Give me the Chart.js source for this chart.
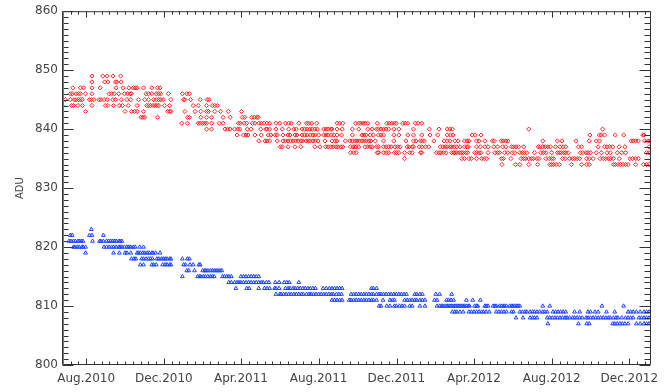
<!DOCTYPE html>
<html>
<head>
<meta charset="utf-8">
<script src="https://cdn.jsdelivr.net/npm/chart.js@4/dist/chart.umd.min.js"></script>
<style>
  html, body { margin: 0; padding: 0; background: #fff; }
  #wrap { width: 672px; height: 392px; }
</style>
</head>
<body>
<div id="wrap"><canvas id="c" width="672" height="392"></canvas></div>
<script>
// Time axis: days counted from 2010-06-24.
const tickDays = [38, 160, 281, 403, 525, 647, 769, 891];
const tickLabels = ['Aug.2010', 'Dec.2010', 'Apr.2011', 'Aug.2011', 'Dec.2011', 'Apr.2012', 'Aug.2012', 'Dec.2012'];
const dayRange = [0, 925];
const aduRange = [800, 860];

// Upper channel (diamonds): one list of observation days per ADU level.
const redLevels = [849, 848, 847, 846, 845, 844, 843, 842, 841, 840, 839, 838, 837, 836, 835, 834];
const redDays = [
  [47, 64, 71, 80, 92],
  [47, 67, 72, 84, 86, 93],
  [17, 29, 34, 47, 60, 85, 96, 105, 112, 115, 118, 128, 141, 150, 154],
  [13, 16, 22, 26, 29, 37, 47, 74, 78, 82, 89, 98, 103, 107, 109, 132, 136, 141, 148, 152, 155, 167, 189, 196, 200],
  [5, 13, 19, 22, 26, 29, 32, 43, 46, 50, 58, 61, 66, 71, 80, 84, 93, 102, 108, 120, 130, 136, 144, 148, 152, 155, 159, 171, 191, 193, 202, 217, 228, 231],
  [0, 15, 18, 25, 32, 47, 68, 72, 81, 90, 95, 104, 118, 133, 136, 139, 143, 146, 149, 152, 161, 169, 206, 214, 227, 236, 240, 244],
  [37, 99, 109, 114, 118, 128, 166, 169, 171, 193, 209, 218, 227, 230, 240, 249, 261, 282],
  [124, 127, 130, 150, 197, 200, 218, 227, 235, 253, 264, 283, 287, 298, 302, 306, 308],
  [188, 197, 214, 217, 221, 224, 227, 235, 247, 253, 277, 280, 286, 290, 299, 303, 309, 313, 317, 322, 326, 336, 342, 351, 356, 360, 372, 384, 387, 392, 400, 432, 436, 441, 461, 466, 469, 473, 476, 480, 495, 510, 514, 518, 522, 525, 535, 539, 543, 555, 559, 565],
  [227, 235, 256, 260, 264, 271, 276, 279, 291, 297, 312, 320, 322, 326, 336, 346, 356, 364, 368, 377, 381, 385, 389, 393, 397, 401, 411, 415, 418, 422, 424, 432, 440, 456, 466, 480, 487, 494, 497, 501, 505, 509, 513, 521, 529, 552, 577, 592, 605, 609, 613, 733, 849],
  [275, 285, 289, 292, 303, 313, 324, 328, 335, 338, 347, 355, 358, 366, 369, 377, 381, 385, 390, 394, 398, 403, 411, 415, 418, 423, 427, 432, 439, 456, 471, 474, 477, 484, 489, 497, 501, 505, 521, 529, 543, 552, 565, 578, 590, 605, 610, 614, 644, 649, 658, 829, 844, 847, 852, 869, 882, 912, 914],
  [309, 319, 322, 326, 338, 347, 351, 355, 359, 363, 367, 371, 375, 378, 383, 387, 390, 394, 398, 402, 413, 424, 429, 432, 445, 452, 456, 460, 463, 467, 471, 475, 478, 482, 485, 492, 505, 521, 540, 552, 556, 563, 566, 569, 584, 600, 605, 609, 617, 622, 632, 636, 639, 651, 655, 664, 676, 679, 690, 693, 697, 700, 755, 778, 785, 807, 828, 839, 844, 894, 897, 901, 905, 915, 920, 923],
  [343, 346, 355, 366, 375, 397, 405, 414, 418, 422, 426, 430, 433, 438, 441, 453, 457, 460, 462, 466, 476, 480, 484, 487, 494, 497, 505, 509, 513, 517, 523, 527, 531, 542, 545, 550, 552, 561, 565, 571, 576, 594, 598, 602, 605, 609, 612, 616, 620, 625, 632, 636, 638, 651, 657, 664, 669, 678, 684, 692, 697, 706, 709, 713, 717, 725, 748, 751, 755, 759, 763, 767, 775, 782, 787, 791, 811, 816, 842, 852, 856, 860, 865, 875, 884, 922],
  [453, 458, 462, 495, 497, 505, 509, 513, 522, 525, 529, 538, 546, 550, 563, 565, 588, 592, 595, 599, 603, 612, 615, 617, 620, 624, 627, 630, 634, 637, 648, 651, 655, 658, 669, 680, 684, 687, 695, 700, 707, 711, 719, 723, 726, 730, 742, 752, 756, 760, 769, 778, 781, 784, 788, 791, 795, 814, 818, 823, 826, 830, 839, 847, 856, 861, 872, 879, 885, 918, 922],
  [538, 628, 632, 639, 643, 651, 659, 663, 667, 690, 693, 705, 721, 725, 728, 733, 737, 740, 746, 749, 760, 765, 769, 772, 786, 790, 797, 802, 805, 809, 813, 824, 828, 834, 845, 850, 854, 858, 861, 866, 875, 892, 896, 901, 905],
  [691, 712, 719, 733, 747, 766, 769, 772, 776, 781, 800, 816, 824, 828, 866, 869, 873, 877, 881, 885, 889, 901, 913, 918, 922]
];

// Lower channel (triangles): one list of observation days per ADU level.
const blueLevels = [823, 822, 821, 820, 819, 818, 817, 816, 815, 814, 813, 812, 811, 810, 809, 808, 807];
const blueDays = [
  [46],
  [13, 16, 43, 47, 65],
  [0, 11, 14, 18, 21, 25, 27, 30, 33, 48, 59, 61, 65, 70, 73, 76, 79, 82, 85, 89, 91, 94],
  [18, 20, 24, 27, 31, 33, 37, 66, 70, 74, 78, 81, 85, 89, 91, 94, 98, 102, 105, 108, 112, 115, 122, 128],
  [37, 81, 90, 99, 102, 108, 118, 120, 123, 127, 130, 134, 137, 141, 143, 147, 154],
  [109, 113, 116, 125, 128, 132, 136, 139, 142, 149, 152, 156, 159, 162, 165, 169, 171, 189, 197, 200],
  [123, 128, 141, 144, 148, 158, 162, 165, 169, 171, 191, 194, 201, 206, 215, 217],
  [196, 199, 208, 221, 224, 226, 229, 233, 236, 239, 242, 245, 248, 251],
  [189, 213, 216, 218, 222, 225, 229, 233, 236, 239, 252, 255, 259, 262, 266, 281, 285, 289, 293, 297, 301, 305, 309],
  [262, 266, 271, 275, 278, 281, 285, 289, 293, 297, 301, 305, 309, 313, 316, 321, 325, 335, 341, 349, 353, 357, 372],
  [273, 290, 294, 309, 318, 322, 326, 334, 336, 341, 351, 355, 358, 363, 366, 370, 374, 378, 382, 386, 390, 394, 398, 410, 415, 420, 424, 428, 432, 436, 440, 486, 489, 494],
  [336, 342, 344, 348, 352, 356, 360, 364, 368, 372, 376, 379, 384, 388, 391, 395, 399, 403, 407, 411, 415, 419, 423, 426, 431, 435, 439, 454, 458, 462, 466, 470, 474, 478, 482, 486, 489, 494, 498, 501, 505, 509, 513, 517, 521, 525, 529, 533, 537, 541, 554, 557, 562, 566, 587, 593, 612],
  [424, 428, 432, 436, 440, 451, 454, 458, 462, 466, 470, 474, 478, 482, 486, 489, 494, 504, 515, 519, 522, 538, 542, 546, 550, 554, 557, 562, 566, 570, 585, 589, 604, 607, 611, 615, 635, 645, 657],
  [498, 501, 510, 515, 522, 525, 530, 534, 538, 546, 550, 562, 570, 589, 593, 596, 598, 601, 604, 606, 609, 611, 614, 617, 619, 622, 625, 627, 630, 632, 635, 638, 640, 648, 651, 653, 664, 666, 669, 677, 680, 682, 687, 690, 693, 695, 698, 703, 706, 708, 711, 714, 716, 719, 755, 766, 848, 882],
  [613, 617, 620, 625, 630, 639, 643, 647, 651, 655, 659, 662, 666, 671, 682, 686, 690, 694, 698, 706, 709, 719, 723, 727, 730, 735, 739, 742, 746, 750, 755, 758, 762, 771, 775, 779, 783, 787, 791, 805, 813, 826, 830, 837, 842, 855, 868, 889, 893, 897, 902, 908, 914, 918, 922],
  [713, 724, 735, 739, 742, 746, 762, 766, 770, 774, 778, 782, 786, 790, 793, 797, 802, 805, 809, 813, 817, 823, 826, 830, 834, 838, 842, 846, 850, 854, 858, 861, 866, 870, 873, 879, 885, 889, 893, 897, 906, 910, 914, 918, 922],
  [763, 811, 824, 828, 865, 868, 872, 876, 880, 884, 889, 902, 908, 914, 918, 922]
];

function toPoints(levels, days) {
  const pts = [];
  levels.forEach((lv, i) => days[i].forEach(d => pts.push({ x: d, y: lv })));
  return pts;
}

// Inward ticks on all four sides plus the plot frame, IDL style.
const frameTicks = {
  id: 'frameTicks',
  afterDatasetsDraw(chart) {
    const { ctx, chartArea: a, scales: { x, y } } = chart;
    ctx.save();
    ctx.strokeStyle = '#333';
    ctx.lineWidth = 1;
    ctx.beginPath();
    const L = a.left + 0.5, R = a.right - 0.5, T = a.top + 0.5, B = a.bottom - 0.5;
    ctx.rect(L, T, R - L, B - T);
    // x ticks (major + 10 minor divisions)
    const step = (tickDays[tickDays.length - 1] - tickDays[0]) / (tickDays.length - 1) / 10;
    for (let d = tickDays[0] - step * Math.floor(tickDays[0] / step); d <= dayRange[1]; d += step) {
      const major = tickDays.some(t => Math.abs(t - d) < step / 2);
      const len = major ? 6 : 3;
      const px = Math.round(x.getPixelForValue(d)) + 0.5;
      if (px <= L + 1 || px >= R - 1) continue;
      ctx.moveTo(px, B); ctx.lineTo(px, B - len);
      ctx.moveTo(px, T); ctx.lineTo(px, T + len);
    }
    // y ticks: major every 10, minor every 1
    for (let v = aduRange[0]; v <= aduRange[1]; v++) {
      const major = v % 10 === 0;
      const len = major ? 11 : 6;
      const py = Math.round(y.getPixelForValue(v)) + 0.5;
      ctx.moveTo(L, py); ctx.lineTo(L + len, py);
      ctx.moveTo(R, py); ctx.lineTo(R - len, py);
    }
    ctx.stroke();
    // heavier left axis line
    ctx.beginPath();
    ctx.moveTo(a.left + 1.5, T); ctx.lineTo(a.left + 1.5, B);
    ctx.strokeStyle = '#777';
    ctx.stroke();
    ctx.restore();
  }
};

const font = { family: 'DejaVu Sans', size: 12 };

new Chart(document.getElementById('c'), {
  type: 'scatter',
  data: {
    datasets: [
      {
        data: toPoints(redLevels, redDays),
        pointStyle: 'rectRot',
        radius: 2.1,
        borderWidth: 1,
        borderColor: '#ff2020',
        backgroundColor: 'rgba(255,255,255,0)'
      },
      {
        data: toPoints(blueLevels, blueDays),
        pointStyle: 'triangle',
        radius: 2.2,
        borderWidth: 1,
        borderColor: '#1f44ff',
        backgroundColor: 'rgba(255,255,255,0)'
      }
    ]
  },
  options: {
    responsive: false,
    animation: false,
    devicePixelRatio: 1,
    layout: { padding: { top: 9, right: 21, left: 0, bottom: 0 } },
    plugins: { legend: { display: false }, tooltip: { enabled: false } },
    scales: {
      x: {
        type: 'linear',
        min: dayRange[0],
        max: dayRange[1],
        grid: { display: false, drawTicks: false },
        border: { display: false },
        afterBuildTicks: s => { s.ticks = tickDays.map(v => ({ value: v })); },
        afterFit: s => { s.height = 27; },
        ticks: {
          autoSkip: false,
          maxRotation: 0,
          padding: 7,
          color: '#444',
          font,
          callback: (v, i) => tickLabels[i]
        }
      },
      y: {
        min: aduRange[0],
        max: aduRange[1],
        grid: { display: false, drawTicks: false },
        border: { display: false },
        afterFit: s => { s.width = 62; },
        ticks: { stepSize: 10, padding: 4, color: '#444', font },
        title: {
          display: true,
          text: 'ADU',
          color: '#444',
          font: { family: 'DejaVu Sans', size: 10 },
          padding: { top: 14, bottom: 0 }
        }
      }
    }
  },
  plugins: [frameTicks]
});
</script>
</body>
</html>
